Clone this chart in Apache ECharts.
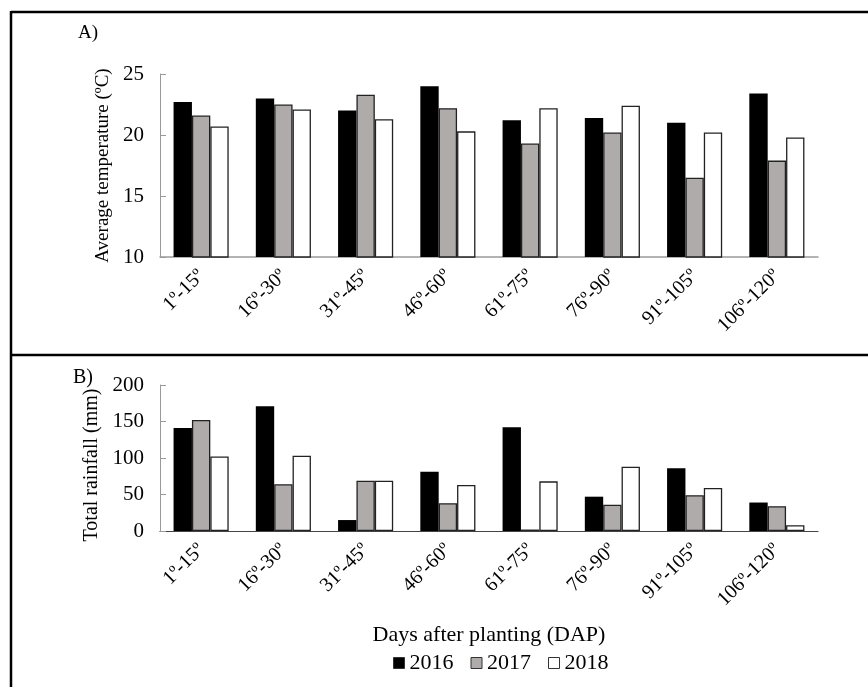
<!DOCTYPE html>
<html><head><meta charset="utf-8">
<script src="https://cdn.jsdelivr.net/npm/echarts@6/dist/echarts.min.js"></script>
<style>html,body{margin:0;padding:0;background:#fff}#c{width:868px;height:687px}</style>
</head><body><div id="c"></div>
<script>
const categories = ['1º-15º','16º-30º','31º-45º','46º-60º','61º-75º','76º-90º','91º-105º','106º-120º'];
const years = ['2016','2017','2018'];
const temp2016 = [22.7, 23.0, 22.0, 24.0, 21.2, 21.4, 21.0, 23.4];
const temp2017 = [21.6, 22.5, 23.3, 22.2, 19.3, 20.2, 16.5, 17.9];
const temp2018 = [20.7, 22.1, 21.3, 20.3, 22.2, 22.4, 20.2, 19.8];
const rain2016 = [141, 171, 15, 81, 142, 47, 86, 39];
const rain2017 = [152, 64, 69, 38, 2, 36, 49, 34];
const rain2018 = [102, 103, 69, 63, 68, 88, 59, 8];
const colors = ['#000000', '#afabab', '#ffffff'];
const F = '"Liberation Serif", "Times New Roman", serif';

const chart = echarts.init(document.getElementById('c'), null, {renderer: 'canvas'});
function mkSeries(data, i, axis) {
  return {
    name: years[i], type: 'bar', xAxisIndex: axis, yAxisIndex: axis, data: data,
    barGap: '0%', barCategoryGap: '33%',
    itemStyle: {color: colors[i], borderColor: i === 0 ? '#000' : '#222', borderWidth: i === 0 ? 0 : 1.3},
    emphasis: {disabled: true}
  };
}
const xBase = {
  type: 'category', data: categories,
  axisTick: {show: false},
  axisLabel: {rotate: 45, fontFamily: F, fontSize: 20, color: '#000', margin: 16, interval: 0},
};
chart.setOption({
  animation: false,
  textStyle: {fontFamily: F},
  grid: [
    {left: 160, right: 50, top: 74, height: 183},
    {left: 160, right: 50, top: 385, height: 146}
  ],
  xAxis: [
    Object.assign({}, xBase, {gridIndex: 0, axisLine: {lineStyle: {color: '#9a9a9a', width: 1.5}}}),
    Object.assign({}, xBase, {gridIndex: 1, axisLine: {lineStyle: {color: '#444', width: 1.2}},
      name: 'Days after planting (DAP)', nameLocation: 'middle', nameGap: 93,
      nameTextStyle: {fontFamily: F, fontSize: 22, color: '#000'}})
  ],
  yAxis: [
    {type: 'value', gridIndex: 0, min: 10, max: 25, interval: 5,
     name: 'Average temperature (ºC)', nameLocation: 'middle', nameGap: 45,
     nameTextStyle: {fontFamily: F, fontSize: 19, color: '#000'},
     axisLine: {show: true, lineStyle: {color: '#9a9a9a', width: 1}},
     axisTick: {show: true, inside: true, length: 6, lineStyle: {color: '#9a9a9a'}},
     splitLine: {show: false},
     axisLabel: {fontFamily: F, fontSize: 21, color: '#000', margin: 16}},
    {type: 'value', gridIndex: 1, min: 0, max: 200, interval: 50,
     name: 'Total rainfall (mm)', nameLocation: 'middle', nameGap: 58,
     nameTextStyle: {fontFamily: F, fontSize: 20, color: '#000', padding: [0, 14, 0, 0]},
     axisLine: {show: true, lineStyle: {color: '#9a9a9a', width: 1}},
     axisTick: {show: true, inside: true, length: 6, lineStyle: {color: '#9a9a9a'}},
     splitLine: {show: false},
     axisLabel: {fontFamily: F, fontSize: 21, color: '#000', margin: 16}}
  ],
  legend: {
    data: years, top: 647, left: 388, itemWidth: 11, itemHeight: 11, itemGap: 17,
    icon: 'rect',
    textStyle: {fontFamily: F, fontSize: 22, color: '#000'},
    itemStyle: {borderColor: '#333', borderWidth: 1}
  },
  series: [
    mkSeries(temp2016, 0, 0), mkSeries(temp2017, 1, 0), mkSeries(temp2018, 2, 0),
    mkSeries(rain2016, 0, 1), mkSeries(rain2017, 1, 1), mkSeries(rain2018, 2, 1)
  ],
  graphic: [
    {type: 'line', shape: {x1: 11, y1: 12, x2: 868, y2: 12}, style: {stroke: '#000', lineWidth: 2.5}},
    {type: 'line', shape: {x1: 11, y1: 11, x2: 11, y2: 687}, style: {stroke: '#000', lineWidth: 2.5}},
    {type: 'line', shape: {x1: 11, y1: 355, x2: 868, y2: 355}, style: {stroke: '#000', lineWidth: 2.5}},
    {type: 'text', left: 78, top: 24, style: {text: 'A)', font: '19px ' + F, fill: '#000'}},
    {type: 'text', left: 73, top: 368, style: {text: 'B)', font: '20px ' + F, fill: '#000'}}
  ]
});
</script></body></html>
